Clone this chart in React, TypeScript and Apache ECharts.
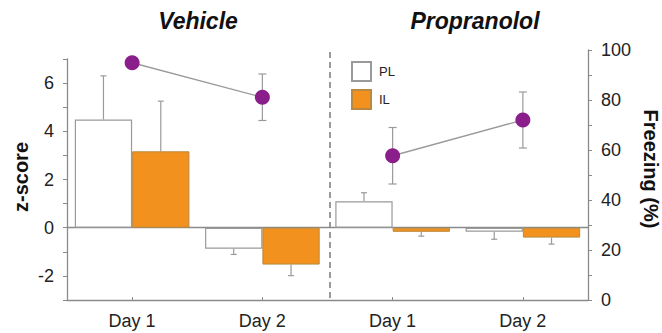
import React, { useEffect, useRef } from "react";
import * as echarts from "echarts";

const categories = ["Day 1", "Day 2", "Day 1", "Day 2"];
const plValues = [4.49, -0.87, 1.1, -0.17];
const plErrors = [1.81, 0.24, 0.35, 0.31];
const ilValues = [3.17, -1.53, -0.17, -0.41];
const ilErrors = [2.08, 0.46, 0.18, 0.27];
const freezeVehicle = [94.9, 81.1, null, null];
const freezeProp = [null, null, 57.7, 72.0];
const freezeErrors = [0, 9.3, 11.3, 11.2];
const groupTitles = ["Vehicle", "Propranolol"];

const FONT = "'Liberation Sans', Arial, Helvetica, sans-serif";
const GREY = "#9a9a9a";
const AXIS = "#8a8a8a";
const ORANGE = "#F3911E";
const PURPLE = "#8A1F8C";

function barErrorSeries(name: string, values: number[], errors: number[], side: number) {
  return {
    type: "custom",
    name,
    xAxisIndex: 0,
    yAxisIndex: 0,
    z: 1,
    silent: true,
    data: values.map((v, i) => [i, v, errors[i]]),
    renderItem: (params: any, api: any) => {
      const idx = api.value(0);
      const val = api.value(1);
      const err = api.value(2);
      const dir = val >= 0 ? 1 : -1;
      const base = api.coord([idx, val]);
      const end = api.coord([idx, val + dir * err]);
      const band = api.size([1, 0])[0];
      const x = base[0] + side * band * 0.22;
      const cap = 3;
      return {
        type: "group",
        children: [
          { type: "line", shape: { x1: x, y1: base[1], x2: x, y2: end[1] }, style: { stroke: GREY, lineWidth: 1.2 } },
          { type: "line", shape: { x1: x - cap, y1: end[1], x2: x + cap, y2: end[1] }, style: { stroke: GREY, lineWidth: 1.2 } },
        ],
      };
    },
  };
}

export default function App() {
  const ref = useRef<HTMLDivElement>(null);
  useEffect(() => {
    if (!ref.current) return;
    const chart = echarts.init(ref.current, null, { renderer: "svg" });
    const freezeAll = freezeVehicle.map((v, i) => (v != null ? v : freezeProp[i]));
    const option: any = {
      animation: false,
      textStyle: { fontFamily: FONT },
      grid: [
        { left: 67, right: 74, top: 59, bottom: 33 },
        { left: 67, right: 74, top: 50, bottom: 33 },
      ],
      legend: {
        data: ["PL", "IL"],
        orient: "vertical",
        left: 346,
        top: 56,
        itemWidth: 19,
        itemHeight: 19,
        itemGap: 7,
        icon: "rect",
        textStyle: { fontSize: 13, color: "#222", fontFamily: FONT, padding: [0, 0, 0, 3] },
      },
      xAxis: [
        {
          type: "category",
          gridIndex: 0,
          data: categories,
          axisLine: { onZero: true, lineStyle: { color: AXIS, width: 1.3 } },
          axisTick: { show: false },
          axisLabel: { show: false },
          splitLine: { show: false },
        },
        {
          type: "category",
          gridIndex: 1,
          data: categories,
          position: "bottom",
          axisLine: { lineStyle: { color: AXIS, width: 1.3 } },
          axisTick: { show: true, inside: true, length: 3, alignWithLabel: true, lineStyle: { color: AXIS } },
          axisLabel: { fontSize: 18, color: "#222", margin: 12, fontFamily: FONT },
          splitLine: { show: false },
        },
      ],
      yAxis: [
        {
          type: "value",
          gridIndex: 0,
          position: "left",
          min: -3,
          max: 7,
          interval: 1,
          axisLine: { show: true, lineStyle: { color: AXIS, width: 1.3 } },
          axisTick: { show: true, length: 4, lineStyle: { color: AXIS } },
          axisLabel: {
            fontSize: 18,
            color: "#222",
            margin: 13,
            fontFamily: FONT,
            formatter: (v: number) => (v % 2 === 0 ? String(v) : ""),
          },
          splitLine: { show: false },
        },
        {
          type: "value",
          gridIndex: 1,
          position: "right",
          min: 0,
          max: 100,
          interval: 10,
          axisLine: { show: true, lineStyle: { color: AXIS, width: 1.3 } },
          axisTick: { show: true, length: 4, lineStyle: { color: AXIS } },
          axisLabel: {
            fontSize: 18,
            color: "#222",
            margin: 13,
            fontFamily: FONT,
            formatter: (v: number) => (v % 20 === 0 ? String(v) : ""),
          },
          splitLine: { show: false },
        },
      ],
      series: [
        barErrorSeries("PL err", plValues, plErrors, -1),
        barErrorSeries("IL err", ilValues, ilErrors, 1),
        {
          type: "bar",
          name: "PL",
          xAxisIndex: 0,
          yAxisIndex: 0,
          z: 2,
          data: plValues,
          barWidth: "44%",
          barGap: "0%",
          itemStyle: { color: "#ffffff", borderColor: GREY, borderWidth: 1.2 },
        },
        {
          type: "bar",
          name: "IL",
          xAxisIndex: 0,
          yAxisIndex: 0,
          z: 2,
          data: ilValues,
          barWidth: "44%",
          barGap: "0%",
          itemStyle: { color: ORANGE, borderColor: "#b8893f", borderWidth: 1 },
        },
        {
          type: "custom",
          name: "Freezing err",
          xAxisIndex: 1,
          yAxisIndex: 1,
          z: 3,
          silent: true,
          data: freezeAll.map((v, i) => [i, v, freezeErrors[i]]),
          renderItem: (params: any, api: any) => {
            const idx = api.value(0);
            const val = api.value(1);
            const err = api.value(2);
            if (!err) return null;
            const top = api.coord([idx, val + err]);
            const bot = api.coord([idx, val - err]);
            const x = top[0];
            const cap = 4;
            const st = { stroke: GREY, lineWidth: 1.2 };
            return {
              type: "group",
              children: [
                { type: "line", shape: { x1: x, y1: top[1], x2: x, y2: bot[1] }, style: st },
                { type: "line", shape: { x1: x - cap, y1: top[1], x2: x + cap, y2: top[1] }, style: st },
                { type: "line", shape: { x1: x - cap, y1: bot[1], x2: x + cap, y2: bot[1] }, style: st },
              ],
            };
          },
        },
        {
          type: "line",
          name: "Freezing Vehicle",
          xAxisIndex: 1,
          yAxisIndex: 1,
          z: 4,
          data: freezeVehicle,
          symbol: "circle",
          symbolSize: 15,
          showAllSymbol: true,
          connectNulls: false,
          itemStyle: { color: PURPLE, borderWidth: 0 },
          lineStyle: { color: GREY, width: 1.3 },
        },
        {
          type: "line",
          name: "Freezing Propranolol",
          xAxisIndex: 1,
          yAxisIndex: 1,
          z: 4,
          data: freezeProp,
          symbol: "circle",
          symbolSize: 15,
          showAllSymbol: true,
          connectNulls: false,
          itemStyle: { color: PURPLE, borderWidth: 0 },
          lineStyle: { color: GREY, width: 1.3 },
        },
      ],
      graphic: [
        {
          type: "line",
          shape: { x1: 330, y1: 52, x2: 330, y2: 300 },
          style: { stroke: "#7a7a7a", lineWidth: 1.5, lineDash: [6, 4] },
          z: 0,
        },
        {
          type: "text",
          x: 198,
          y: 21,
          style: {
            text: groupTitles[0],
            fontSize: 23,
            fontWeight: "bold",
            fontStyle: "italic",
            fontFamily: FONT,
            fill: "#111",
            textAlign: "center",
            textVerticalAlign: "middle",
          },
        },
        {
          type: "text",
          x: 475,
          y: 21,
          style: {
            text: groupTitles[1],
            fontSize: 23,
            fontWeight: "bold",
            fontStyle: "italic",
            fontFamily: FONT,
            fill: "#111",
            textAlign: "center",
            textVerticalAlign: "middle",
          },
        },
        {
          type: "text",
          x: 21,
          y: 177,
          rotation: Math.PI / 2,
          style: {
            text: "z-score",
            fontSize: 20,
            fontWeight: "bold",
            fontFamily: FONT,
            fill: "#111",
            textAlign: "center",
            textVerticalAlign: "middle",
          },
        },
        {
          type: "text",
          x: 651,
          y: 169,
          rotation: -Math.PI / 2,
          style: {
            text: "Freezing (%)",
            fontSize: 20,
            fontWeight: "bold",
            fontFamily: FONT,
            fill: "#111",
            textAlign: "center",
            textVerticalAlign: "middle",
          },
        },
      ],
    };
    chart.setOption(option);
    return () => chart.dispose();
  }, []);
  return (
    <div
      ref={ref}
      style={{ position: "fixed", left: 0, top: 0, width: 662, height: 333, background: "#fff" }}
    />
  );
}
